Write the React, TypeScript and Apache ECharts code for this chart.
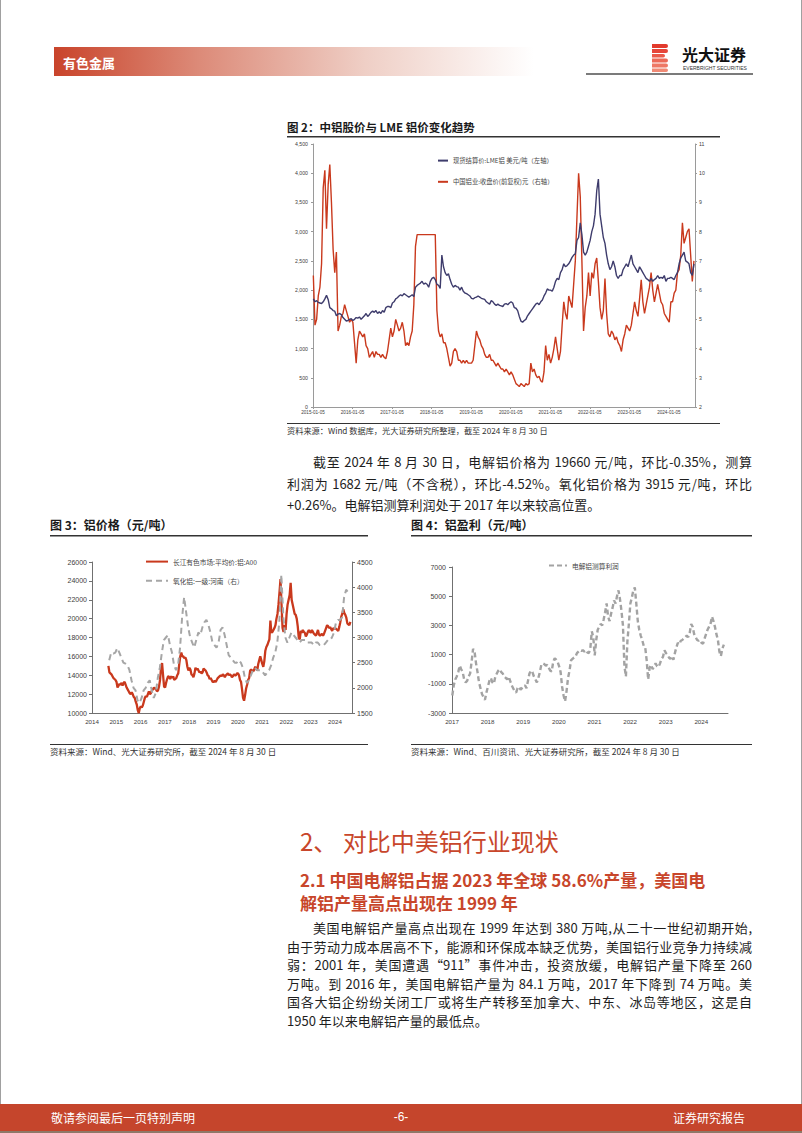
import React, { useEffect, useRef } from "react";
import * as echarts from "echarts";

// ---------------- DATA ----------------
// Fig 2: semi-monthly samples starting 2015-01 (1st half / 2nd half of each month)
const LME_USD: number[] = [
  1850,1800,1820,1790,1780,1770,1800,1850,1910,1840,1700,1680,1650,1640,1560,1590,1600,1580,1530,1500,1470,1480,1500,1510,
  1480,1500,1530,1520,1540,1500,1530,1560,1600,1550,1580,1620,1640,1620,1650,1600,1630,1600,1650,1620,1700,1720,1720,1700,
  1780,1800,1850,1870,1900,1920,1900,1940,1920,1900,1880,1900,1920,1890,2050,2080,2100,2120,2150,2100,2120,2100,2050,2150,
  2200,2220,2180,2100,2080,2030,2600,2400,2300,2250,2280,2180,2100,2050,2080,2060,2050,2000,2050,1980,1950,1940,1920,1900,
  1860,1850,1870,1880,1900,1880,1860,1850,1840,1800,1780,1760,1820,1800,1760,1740,1760,1740,1730,1720,1760,1770,1750,1780,
  1800,1780,1700,1690,1650,1550,1470,1450,1480,1500,1560,1600,1640,1680,1720,1760,1780,1750,1800,1830,1900,1950,2020,2000,
  2000,1980,2050,2150,2200,2180,2300,2350,2450,2400,2420,2450,2500,2560,2600,2620,2850,2900,3150,2950,2650,2600,2650,2750,
  2850,3000,3100,3300,3700,3900,3300,3100,2900,2800,2600,2450,2350,2400,2500,2400,2250,2200,2250,2250,2350,2400,2450,2400,
  2500,2600,2450,2400,2350,2300,2400,2350,2300,2250,2200,2180,2150,2200,2150,2180,2200,2250,2200,2220,2200,2250,2150,2200,
  2200,2220,2200,2180,2250,2300,2450,2550,2600,2650,2500,2480,2450,2300,2250,2450,
];
const CHALCO_CNY: number[] = [
  6.5,4.8,5.0,5.8,6.1,6.9,9.5,10.1,8.1,9.6,10.3,9.0,7.4,6.6,7.3,4.6,4.8,5.1,5.2,5.5,5.3,5.1,4.9,5.0,
  4.9,4.2,3.5,4.3,4.6,4.5,4.4,4.5,4.1,4.0,3.7,3.8,3.9,3.7,3.9,3.8,3.8,3.7,3.8,3.7,3.65,3.9,4.3,4.7,
  4.4,4.6,5.0,4.8,4.6,4.7,4.9,4.6,4.1,4.2,4.1,4.4,4.6,5.5,7.5,7.9,7.9,7.9,7.9,7.9,7.9,7.9,7.9,7.9,
  7.9,7.9,7.9,5.3,4.6,4.4,4.5,4.2,4.2,4.0,3.7,3.4,3.5,3.9,4.0,3.9,3.6,3.6,3.5,3.6,3.5,3.6,3.5,3.5,
  3.5,3.6,4.1,4.6,4.4,4.3,4.1,4.0,3.8,3.7,3.7,3.8,3.6,3.6,3.5,3.4,3.5,3.4,3.3,3.3,3.2,3.3,3.2,3.1,
  3.2,3.1,2.95,2.8,2.75,2.7,2.8,2.75,2.7,2.8,2.75,2.8,3.5,3.2,3.3,3.1,3.0,3.05,2.9,2.85,3.2,4.1,3.6,3.8,
  3.5,3.7,4.0,4.4,4.0,3.6,3.9,4.8,5.6,5.2,5.0,5.8,5.6,5.4,6.2,7.0,8.5,10.0,9.2,7.0,4.6,5.4,5.8,6.6,
  5.8,6.6,6.4,6.9,7.1,6.3,5.4,5.0,5.3,6.4,5.2,4.5,4.4,4.6,4.5,4.3,4.4,4.2,4.1,3.9,4.3,4.5,4.8,4.7,
  4.6,4.8,5.2,5.6,5.3,5.1,5.7,6.35,5.6,5.2,5.5,5.8,6.1,6.6,6.0,5.6,5.9,6.2,5.9,5.6,5.5,5.2,5.1,5.0,
  4.9,5.6,5.6,5.9,6.0,6.6,6.7,7.2,8.3,7.6,7.8,8.0,8.1,7.2,6.3,7.0,
];
const FIG2_LEFT_TICKS = { min: 0, max: 4500, step: 500 };
const FIG2_RIGHT_TICKS = { min: 2, max: 11, step: 1 };

// Fig 3: A00 semi-monthly from 2014-09; alumina monthly from 2014-09
const A00_PRICE: number[] = [
  15000,14300,14200,14100,13900,13700,13600,13500,
  13300,12700,12900,13100,13000,13200,12900,13200,13300,13000,12700,12500,12300,12100,12000,12200,12000,11700,11600,11200,10900,10300,10000,10500,
  10700,10600,10800,11200,11600,11800,11700,12000,12300,12000,12100,12400,12500,12700,12600,12500,12300,12400,12800,13500,14800,15300,14000,12800,
  12700,13200,13600,13900,13800,13600,13900,13700,13900,13500,13600,13700,14000,14200,15200,16000,16400,16000,16000,15800,15900,15600,14900,14500,
  14800,14600,14100,14000,13800,14200,14800,14600,14700,14500,14300,14400,14200,14300,14700,14600,14500,14300,14000,13900,13600,13700,13500,13300,
  13300,13400,13300,13500,13700,13800,13900,14000,13900,14100,14000,13800,14000,14100,14200,14000,14100,14000,13800,13900,14100,14000,14000,14200,
  14200,14000,13500,13300,12500,11600,11300,11900,12600,13000,13500,13700,14500,14600,14500,14400,14600,14900,14700,14500,15200,15600,16000,15600,
  15200,14900,15500,16600,17000,17200,17500,17800,19800,18500,18600,18800,19000,19300,20000,20500,21500,22800,24200,21500,19000,18600,19300,18800,
  20500,21500,22000,22500,23800,22000,21500,21000,20500,20400,20000,19200,18000,17800,18700,18500,18800,18600,18500,18100,18300,18600,18800,18600,
  18500,18800,18600,18400,18300,18200,18500,18800,18300,18200,18300,18400,18200,18400,18700,19000,19300,19200,19000,19100,18900,18700,19000,18900,
  19000,18900,18800,18700,19100,19600,20200,20500,21000,20600,20400,20100,19500,19400,19300,19660,
];
const ALUMINA_PRICE: number[] = [
  2550,2700,2680,2700,
  2790,2700,2600,2500,2480,2450,2350,2150,2000,1950,1750,1700,
  1800,1950,2000,2100,2150,1950,1800,1900,2200,2400,2700,2950,
  3000,3050,2850,2700,2450,2350,2450,2800,3400,3800,3500,3200,
  3000,2900,2800,2950,3100,3050,3200,3300,3350,3250,3100,2900,
  2850,2800,2900,3150,3200,3050,2850,2650,2600,2550,2500,2500,
  2550,2500,2400,2200,2100,2150,2250,2350,2400,2350,2350,2350,
  2300,2250,2300,2350,2450,2600,2700,2900,3300,4250,3400,3000,
  2900,3000,3100,3050,3000,2950,2900,2950,2950,2950,2900,2900,
  2900,2850,2900,2900,2850,2850,2850,2900,2950,2950,3000,3100,
  3300,3350,3350,3400,3800,3950,3900,3915,
];

// Fig 4: profit, semi-monthly from 2017-01
const PROFIT: number[] = [
  -1800,-1100,-700,-500,-200,250,0,-200,-700,-900,-800,-500,-300,500,1400,1200,400,-200,-900,-1300,-1700,-1900,-2100,-1600,
  -1200,-800,-600,-900,-1000,-500,-300,-100,0,-200,-300,-500,-600,-700,-500,-800,-1100,-1300,-1500,-1600,-1300,-1200,-1400,-1300,
  -1200,-1100,-1300,-800,-300,-100,-200,-500,-700,-900,-600,-200,300,400,350,250,300,100,-100,-150,500,750,650,500,
  200,-200,-1200,-1800,-2200,-1500,-600,-100,600,700,800,850,1100,1200,1300,1250,1300,1200,1300,1150,1100,1400,2600,2200,
  950,2000,2700,2900,3100,3000,3400,3900,4500,3600,3300,3800,4200,4700,4500,5000,5400,4800,4000,3000,200,-500,1900,3100,
  4500,4900,5400,5600,4500,3300,2700,2300,2000,1600,1500,600,-700,100,300,0,200,400,200,150,400,700,850,1300,
  1100,1000,800,700,900,650,1100,1500,1800,1700,1950,2000,2100,2200,2300,2200,2500,3100,2900,2400,2200,2000,1950,2000,
  1800,1750,2100,2400,2700,2900,3100,3600,3300,2900,2400,2000,1200,900,1400,1682,
];

const SERIES_NAMES = {
  lme: "现货结算价:LME铝 美元/吨（左轴）",
  chalco: "中国铝业:收盘价(前复权)元（右轴）",
  a00: "长江有色市场:平均价:铝:A00",
  alumina: "氧化铝:一级:河南（右）",
  profit: "电解铝测算利润",
};

const PARA1 = [
  "截至 2024 年 8 月 30 日，电解铝价格为 19660 元/吨，环比-0.35%，测算",
  "利润为 1682 元/吨（不含税），环比-4.52%。氧化铝价格为 3915  元/吨，环比",
  "+0.26%。电解铝测算利润处于 2017 年以来较高位置。",
];
const PARA2 = [
  "美国电解铝产量高点出现在 1999 年达到 380 万吨,从二十一世纪初期开始,",
  "由于劳动力成本居高不下，能源和环保成本缺乏优势，美国铝行业竞争力持续减",
  "弱：2001  年，美国遭遇“911”事件冲击，投资放缓，电解铝产量下降至  260",
  "万吨。到 2016 年，美国电解铝产量为 84.1 万吨，2017 年下降到 74 万吨。美",
  "国各大铝企纷纷关闭工厂或将生产转移至加拿大、中东、冰岛等地区，这是自",
  "1950 年以来电解铝产量的最低点。",
];

// ---------------- helpers ----------------
const CJK = '"Noto Sans CJK SC", "Noto Sans", sans-serif';
const NUM = '"Liberation Sans", Arial, sans-serif';

const semiMonthly = (y0: number, m0: number, vals: number[]) =>
  vals.map((v, i) => [y0 + (m0 + i * 0.5 + 0.1) / 12, v]);
const monthly = (y0: number, m0: number, vals: number[]) =>
  vals.map((v, i) => [y0 + (m0 + i + 0.5) / 12, v]);

const txt = (text: string, x: number, y: number, size: number, o: any = {}) => ({
  type: "text",
  x,
  y,
  silent: true,
  style: {
    text,
    fontSize: size,
    fontFamily: o.family || CJK,
    fontWeight: o.weight || "normal",
    fill: o.fill || "#222",
    align: o.align || "left",
    textAlign: o.align || "left",
    verticalAlign: "middle",
    textVerticalAlign: "middle",
  },
});
const rect = (x: number, y: number, w: number, h: number, fill: any, r: any = 0) => ({
  type: "rect",
  silent: true,
  shape: { x, y, width: w, height: h, r },
  style: { fill },
});

function buildOption() {
  const axisLbl = (size: number, extra: any = {}) => ({
    fontSize: size,
    fontFamily: NUM,
    color: "#404040",
    ...extra,
  });
  const plain = (v: number) => String(v);
  const c2Line = { lineStyle: { color: "#9a9a9a", width: 1 } };
  const c34Line = { lineStyle: { color: "#707070", width: 1 } };

  const graphic: any[] = [
    // page borders
    { type: "line", silent: true, shape: { x1: 0.5, y1: 0, x2: 0.5, y2: 1133 }, style: { stroke: "#a0a0a0", lineWidth: 1 } },
    { type: "line", silent: true, shape: { x1: 801.5, y1: 0, x2: 801.5, y2: 1133 }, style: { stroke: "#a0a0a0", lineWidth: 1 } },
    // header band
    rect(54, 47, 480, 29, {
      type: "linear", x: 0, y: 0, x2: 1, y2: 0,
      colorStops: [
        { offset: 0, color: "#c9442b" },
        { offset: 0.3, color: "#dc8a78" },
        { offset: 0.65, color: "#efcfc6" },
        { offset: 1, color: "#ffffff" },
      ],
    }),
    txt("有色金属", 63, 62, 13, { fill: "#ffffff", weight: "bold" }),
    // logo
    rect(652, 44, 16, 4, "#e23a2c", [0, 2, 2, 0]),
    rect(652, 49, 16, 4, "#e6463a", [0, 2, 2, 0]),
    rect(652, 54, 13, 3.5, "#ea5a4a", [0, 2, 2, 0]),
    rect(652, 58.5, 16, 4, "#ec6a58", [0, 2, 2, 0]),
    rect(652, 63.5, 16, 4, "#ee7865", [0, 2, 2, 0]),
    rect(652, 68.5, 16, 3.5, "#f08a75", [0, 2, 2, 0]),
    txt("光大证券", 682, 54, 16, { weight: "bold", fill: "#111" }),
    txt("EVERBRIGHT SECURITIES", 683, 67.5, 5, { family: NUM, fill: "#333" }),
    rect(586, 73, 167, 2, "#7b7b7b"),

    // Figure 2 frame
    txt("图 2：中铝股价与 LME 铝价变化趋势", 287, 127, 11.5, { weight: "bold", fill: "#1a1a1a" }),
    rect(287, 136, 433, 1.5, "#333"),
    rect(287, 423, 433, 1, "#333"),
    txt("资料来源：Wind 数据库，光大证券研究所整理，截至 2024 年 8 月 30 日", 287, 430, 8.2, { fill: "#333" }),

    // Figure 3 frame
    txt("图 3：铝价格（元/吨）", 50, 524, 12, { weight: "bold", fill: "#1a1a1a" }),
    rect(50, 535, 318, 1.5, "#333"),
    rect(50, 744, 318, 1, "#333"),
    txt("资料来源：Wind、光大证券研究所，截至 2024 年 8 月 30 日", 50, 751, 8.5, { fill: "#333" }),

    // Figure 4 frame
    txt("图 4：铝盈利（元/吨）", 411, 524, 12, { weight: "bold", fill: "#1a1a1a" }),
    rect(411, 535, 341, 1.5, "#333"),
    rect(411, 744, 341, 1, "#333"),
    txt("资料来源：Wind、百川资讯、光大证券研究所，截至 2024 年 8 月 30 日", 411, 751, 8.5, { fill: "#333" }),

    // Section headings
    txt("2、 对比中美铝行业现状", 300, 840, 24, { fill: "#c8462b" }),
    txt("2.1 中国电解铝占据 2023 年全球 58.6%产量，美国电", 300, 879, 17, { fill: "#c8462b", weight: "bold" }),
    txt("解铝产量高点出现在 1999 年", 300, 902, 17, { fill: "#c8462b", weight: "bold" }),

    // footer
    rect(0, 1104, 802, 27, "#c5452c"),
    rect(0, 1131, 802, 2, "#8e7868"),
    txt("敬请参阅最后一页特别声明", 51, 1117, 12, { fill: "#ffffff" }),
    txt("-6-", 401, 1117, 12, { fill: "#ffffff", align: "center", family: NUM }),
    txt("证券研究报告", 745, 1117, 12, { fill: "#ffffff", align: "right" }),
  ];

  const legendBase = {
    orient: "vertical",
    padding: 0,
    itemHeight: 14,
    itemStyle: { opacity: 0, borderWidth: 0 },
  };

  return {
    animation: false,
    backgroundColor: "#ffffff",
    textStyle: { fontFamily: CJK },
    graphic,
    legend: [
      {
        ...legendBase,
        data: [SERIES_NAMES.lme, SERIES_NAMES.chalco],
        left: 437, top: 155, itemWidth: 10, itemGap: 10,
        textStyle: { fontSize: 6.3, color: "#444", fontFamily: CJK },
      },
      {
        ...legendBase,
        data: [SERIES_NAMES.a00, SERIES_NAMES.alumina],
        left: 145, top: 556, itemWidth: 22, itemGap: 8,
        textStyle: { fontSize: 6.7, color: "#444", fontFamily: CJK },
      },
      {
        ...legendBase,
        data: [SERIES_NAMES.profit],
        left: 548, top: 560, itemWidth: 18,
        textStyle: { fontSize: 6.7, color: "#444", fontFamily: CJK },
      },
    ],
    grid: [
      { left: 313, top: 144, width: 382, height: 263 },
      { left: 92, top: 562, width: 260, height: 151 },
      { left: 452, top: 567, width: 276, height: 146 },
    ],
    xAxis: [
      {
        gridIndex: 0, type: "value", min: 2015, max: 2024.66, interval: 1,
        axisLine: { onZero: false, ...c2Line }, axisTick: { length: 2, ...c2Line }, splitLine: { show: false },
        axisLabel: axisLbl(4.6, { margin: 3, showMaxLabel: false, formatter: (v: number) => `${v}-01-05` }),
      },
      {
        gridIndex: 1, type: "value", min: 2014, max: 2024.7, interval: 1,
        axisLine: { onZero: false, ...c34Line }, axisTick: { show: false }, splitLine: { show: false },
        axisLabel: axisLbl(6.2, { margin: 5, showMaxLabel: false, formatter: plain }),
      },
      {
        gridIndex: 2, type: "value", min: 2017, max: 2024.75, interval: 1,
        axisLine: { onZero: false, ...c34Line }, axisTick: { show: false }, splitLine: { show: false },
        axisLabel: axisLbl(6.2, { margin: 5, showMaxLabel: false, formatter: plain }),
      },
    ],
    yAxis: [
      {
        gridIndex: 0, type: "value", min: FIG2_LEFT_TICKS.min, max: FIG2_LEFT_TICKS.max, interval: FIG2_LEFT_TICKS.step,
        axisLine: { show: true, onZero: false, ...c2Line }, axisTick: { show: true, length: 2, ...c2Line }, splitLine: { show: false },
        axisLabel: axisLbl(5.2, { margin: 5, formatter: (v: number) => v.toLocaleString("en-US") }),
      },
      {
        gridIndex: 0, type: "value", position: "right", min: FIG2_RIGHT_TICKS.min, max: FIG2_RIGHT_TICKS.max, interval: FIG2_RIGHT_TICKS.step,
        axisLine: { show: true, onZero: false, ...c2Line }, axisTick: { show: true, length: 2, ...c2Line }, splitLine: { show: false },
        axisLabel: axisLbl(5.2, { margin: 4, formatter: plain }),
      },
      {
        gridIndex: 1, type: "value", min: 10000, max: 26000, interval: 2000,
        axisLine: { show: true, onZero: false, ...c34Line }, axisTick: { show: true, length: 3, ...c34Line }, splitLine: { show: false },
        axisLabel: axisLbl(7, { margin: 5, formatter: plain }),
      },
      {
        gridIndex: 1, type: "value", position: "right", min: 1500, max: 4500, interval: 500,
        axisLine: { show: true, onZero: false, ...c34Line }, axisTick: { show: true, length: 3, ...c34Line }, splitLine: { show: false },
        axisLabel: axisLbl(7, { margin: 5, formatter: plain }),
      },
      {
        gridIndex: 2, type: "value", min: -3000, max: 7000, interval: 2000,
        axisLine: { show: true, onZero: false, ...c34Line }, axisTick: { show: true, length: 3, ...c34Line }, splitLine: { show: false },
        axisLabel: axisLbl(7, { margin: 6, formatter: plain }),
      },
    ],
    series: [
      {
        name: SERIES_NAMES.chalco, type: "line", xAxisIndex: 0, yAxisIndex: 1, symbol: "none",
        data: semiMonthly(2015, 0, CHALCO_CNY), color: "#c9391d",
        lineStyle: { color: "#c9391d", width: 1.4 },
      },
      {
        name: SERIES_NAMES.lme, type: "line", xAxisIndex: 0, yAxisIndex: 0, symbol: "none",
        data: semiMonthly(2015, 0, LME_USD), color: "#3e3c6c",
        lineStyle: { color: "#3e3c6c", width: 1.4 },
      },
      {
        name: SERIES_NAMES.a00, type: "line", xAxisIndex: 1, yAxisIndex: 2, symbol: "none",
        data: semiMonthly(2014, 8, A00_PRICE), color: "#c9391d",
        lineStyle: { color: "#c9391d", width: 2.3 },
      },
      {
        name: SERIES_NAMES.alumina, type: "line", xAxisIndex: 1, yAxisIndex: 3, symbol: "none",
        data: monthly(2014, 8, ALUMINA_PRICE), color: "#a6a6a6",
        lineStyle: { color: "#a6a6a6", width: 2, type: [6, 4] },
      },
      {
        name: SERIES_NAMES.profit, type: "line", xAxisIndex: 2, yAxisIndex: 4, symbol: "none",
        data: semiMonthly(2017, 0, PROFIT), color: "#a3a3a3",
        lineStyle: { color: "#a3a3a3", width: 2.4, type: [5, 3] },
      },
    ],
  };
}

function ParaLine({ text, x, cy, last }: { text: string; x: number; cy: number; last: boolean }) {
  return (
    <div
      style={{
        position: "absolute",
        left: x,
        top: cy - 10,
        width: 752 - x,
        height: 20,
        lineHeight: "20px",
        fontSize: 13,
        fontFamily: CJK,
        color: "#1e1e1e",
        textAlign: last ? "left" : "justify",
        textAlignLast: last ? "left" : "justify",
        whiteSpace: "nowrap",
      } as any}
    >
      {text}
    </div>
  );
}

export default function App() {
  const ref = useRef<HTMLDivElement>(null);
  useEffect(() => {
    if (!ref.current) return;
    const chart = echarts.init(ref.current, undefined, { renderer: "svg" });
    chart.setOption(buildOption() as any);
    return () => chart.dispose();
  }, []);

  const p1Y = [462, 484, 505];
  const p2Y = [928, 946.6, 965.2, 983.8, 1002.4, 1021];

  return (
    <div style={{ position: "absolute", left: 0, top: 0, width: 802, height: 1133, background: "#fff", overflow: "hidden" }}>
      <div ref={ref} style={{ position: "absolute", left: 0, top: 0, width: 802, height: 1133 }} />
      {PARA1.map((t, i) => (
        <ParaLine key={"a" + i} text={t} x={i === 0 ? 313 : 287} cy={p1Y[i]} last={i === PARA1.length - 1} />
      ))}
      {PARA2.map((t, i) => (
        <ParaLine key={"b" + i} text={t} x={i === 0 ? 313 : 287} cy={p2Y[i]} last={i === PARA2.length - 1} />
      ))}
    </div>
  );
}
